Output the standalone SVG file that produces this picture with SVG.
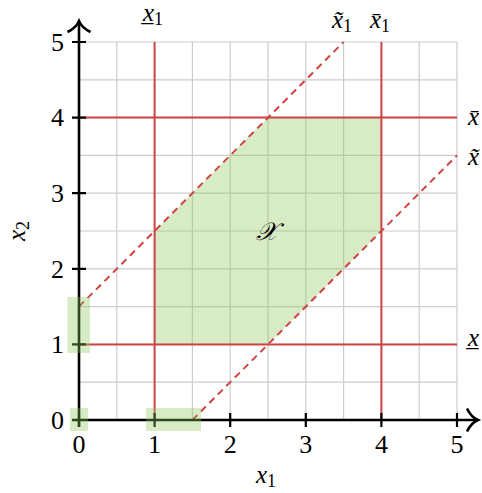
<svg xmlns="http://www.w3.org/2000/svg" width="482" height="493" viewBox="0 0 482 493">
<style>
.grid{stroke:#cccccc;stroke-width:1.2;fill:none}
.red{stroke:#cc4444;stroke-width:2;fill:none}
.dash{stroke:#cc4444;stroke-width:2;fill:none;stroke-dasharray:7,5}
.axis{stroke:#000;stroke-width:2.6;fill:none}
.tick{stroke:#000;stroke-width:2.2}
.green{fill:#8cc65a;fill-opacity:0.35;stroke:none}
text{font-family:'Liberation Serif','DejaVu Serif',serif;fill:#000}
.num{font-size:26px}
.var{font-style:italic;font-size:25px}
.sub{font-style:normal;font-size:18px}
</style>
<g id="grid">
<path class="grid" d="M79,42V420M116.8,42V420M154.6,42V420M192.4,42V420M230.2,42V420M268,42V420M305.8,42V420M343.6,42V420M381.4,42V420M419.2,42V420M457,42V420"/>
<path class="grid" d="M79,42H457M79,79.8H457M79,117.6H457M79,155.4H457M79,193.2H457M79,231H457M79,268.8H457M79,306.6H457M79,344.4H457M79,382.2H457M79,420H457"/>
</g>
<g id="region">
<polygon class="green" points="154.6,344.4 268,344.4 381.4,231 381.4,117.6 268,117.6 154.6,231"/>
<text class="var" x="267" y="240" text-anchor="middle" font-size="24">𝒳</text>
</g>
<g id="connectors">
<line class="red" x1="154.6" y1="420" x2="154.6" y2="42"/>
<line class="red" x1="381.4" y1="420" x2="381.4" y2="42"/>
<line class="red" x1="79" y1="344.4" x2="457" y2="344.4"/>
<line class="red" x1="79" y1="117.6" x2="457" y2="117.6"/>
<line class="dash" x1="79" y1="306.6" x2="343.6" y2="42"/>
<line class="dash" x1="192.4" y1="420" x2="457" y2="155.4"/>
</g>
<g id="axes">
<line class="axis" x1="72" y1="420" x2="477" y2="420"/>
<line class="axis" x1="79" y1="427" x2="79" y2="22"/>
<path class="axis" d="M467,408.5 Q471,417 478,420 Q471,423 467,431.5"/>
<path class="axis" d="M67.5,32 Q76,28 79,21 Q82,28 90.5,32"/>
<path class="tick" d="M79,413V427M154.6,413V427M230.2,413V427M305.8,413V427M381.4,413V427M457,413V427"/>
<path class="tick" d="M72,420H86M72,344.4H86M72,268.8H86M72,193.2H86M72,117.6H86M72,42H86"/>
</g>
<g id="projections">
<rect class="green" x="67.5" y="297" width="22.5" height="56"/>
<rect class="green" x="70" y="408" width="18" height="23"/>
<rect class="green" x="146" y="408" width="55" height="23"/>
</g>
<g id="ticklabels">
<text class="num" x="79" y="453" text-anchor="middle">0</text>
<text class="num" x="154.6" y="453" text-anchor="middle">1</text>
<text class="num" x="230.2" y="453" text-anchor="middle">2</text>
<text class="num" x="305.8" y="453" text-anchor="middle">3</text>
<text class="num" x="381.4" y="453" text-anchor="middle">4</text>
<text class="num" x="457" y="453" text-anchor="middle">5</text>
<text class="num" x="64" y="429" text-anchor="end">0</text>
<text class="num" x="64" y="353" text-anchor="end">1</text>
<text class="num" x="64" y="277.5" text-anchor="end">2</text>
<text class="num" x="64" y="202" text-anchor="end">3</text>
<text class="num" x="64" y="126" text-anchor="end">4</text>
<text class="num" x="64" y="51" text-anchor="end">5</text>
</g>
<g id="axislabels">
<text class="var" x="266" y="483" text-anchor="middle">x<tspan class="sub" dy="4">1</tspan></text>
<text class="var" transform="translate(25,231) rotate(-90)" text-anchor="middle">x<tspan class="sub" dy="4">2</tspan></text>
</g>
<g id="bounds">
<text class="var" x="153" y="21" text-anchor="middle">x̲<tspan class="sub" dy="4">1</tspan></text>
<text class="var" x="342" y="28" text-anchor="middle">x̃<tspan class="sub" dy="4">1</tspan></text>
<text class="var" x="380" y="28" text-anchor="middle">x̄<tspan class="sub" dy="4">1</tspan></text>
<text class="var" x="468" y="125">x̄</text>
<text class="var" x="468" y="165">x̃</text>
<text class="var" x="468" y="346">x̲</text>
</g>
</svg>
